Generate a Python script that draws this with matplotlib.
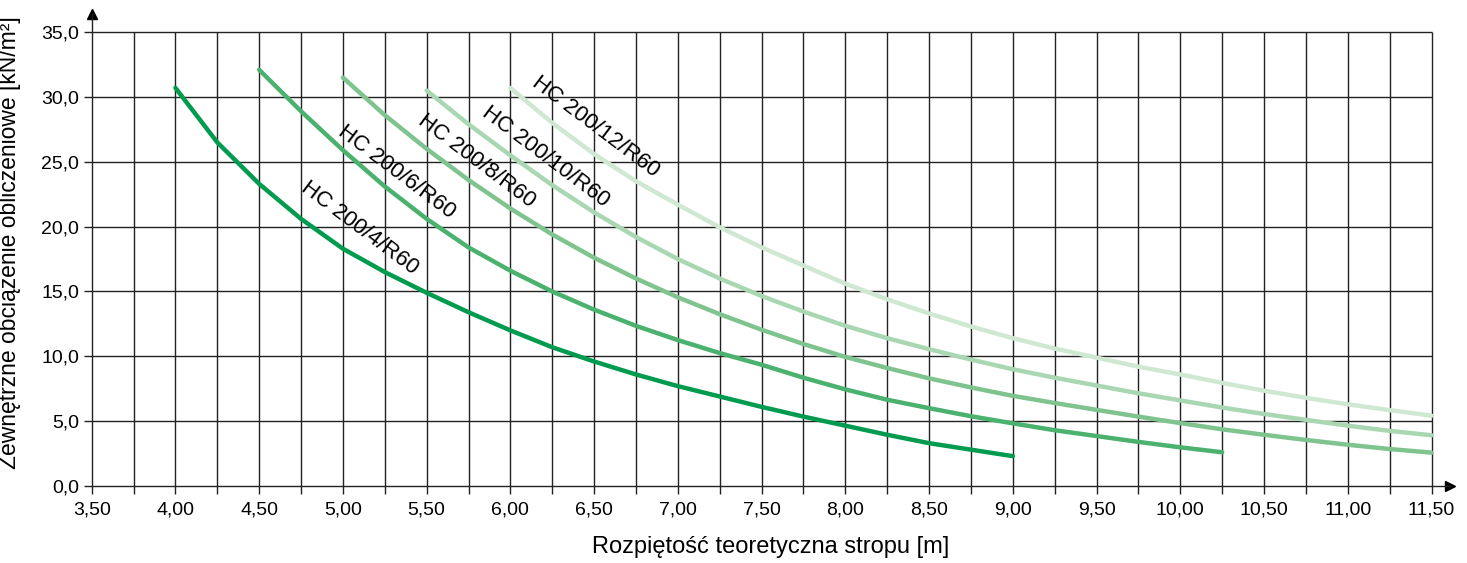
import matplotlib
matplotlib.use('Agg')
import matplotlib.pyplot as plt

plt.rcParams['font.family'] = ['Liberation Sans', 'DejaVu Sans']

# --- DANE ---
x_hc4 = [4.00, 4.25, 4.50, 4.75, 5.00, 5.25, 5.50, 5.75, 6.00, 6.25, 6.50,
         6.75, 7.00, 7.25, 7.50, 7.75, 8.00, 8.25, 8.50, 8.75, 9.00]
y_hc4 = [30.7, 26.5, 23.3, 20.6, 18.3, 16.5, 14.9, 13.4, 12.0, 10.7, 9.6,
         8.6, 7.7, 6.9, 6.1, 5.35, 4.65, 3.95, 3.3, 2.8, 2.3]

x_hc6 = [4.50, 4.75, 5.00, 5.25, 5.50, 5.75, 6.00, 6.25, 6.50, 6.75, 7.00,
         7.25, 7.50, 7.75, 8.00, 8.25, 8.50, 8.75, 9.00, 9.25, 9.50, 9.75,
         10.00, 10.25]
y_hc6 = [32.1, 28.9, 25.9, 23.1, 20.6, 18.4, 16.6, 15.0, 13.6, 12.35, 11.25,
         10.25, 9.35, 8.35, 7.45, 6.65, 6.0, 5.38, 4.83, 4.3, 3.85, 3.4,
         2.98, 2.6]

x_hc8 = [5.00, 5.25, 5.50, 5.75, 6.00, 6.25, 6.50, 6.75, 7.00, 7.25, 7.50,
         7.75, 8.00, 8.25, 8.50, 8.75, 9.00, 9.25, 9.50, 9.75, 10.00, 10.25,
         10.50, 10.75, 11.00, 11.25, 11.50]
y_hc8 = [31.5, 28.6, 26.0, 23.6, 21.4, 19.4, 17.6, 16.0, 14.55, 13.25, 12.05,
         10.95, 9.95, 9.1, 8.3, 7.6, 6.95, 6.4, 5.87, 5.35, 4.85, 4.37,
         3.95, 3.55, 3.18, 2.85, 2.57]

x_hc10 = [5.50, 5.75, 6.00, 6.25, 6.50, 6.75, 7.00, 7.25, 7.50, 7.75, 8.00,
          8.25, 8.50, 8.75, 9.00, 9.25, 9.50, 9.75, 10.00, 10.25, 10.50,
          10.75, 11.00, 11.25, 11.50]
y_hc10 = [30.5, 27.9, 25.5, 23.2, 21.1, 19.2, 17.5, 16.0, 14.65, 13.45, 12.35,
          11.4, 10.55, 9.75, 9.0, 8.35, 7.75, 7.15, 6.6, 6.05, 5.55,
          5.1, 4.65, 4.25, 3.91]

x_hc12 = [6.00, 6.25, 6.50, 6.75, 7.00, 7.25, 7.50, 7.75, 8.00, 8.25, 8.50,
          8.75, 9.00, 9.25, 9.50, 9.75, 10.00, 10.25, 10.50, 10.75, 11.00,
          11.25, 11.50]
y_hc12 = [30.7, 28.0, 25.6, 23.5, 21.7, 19.95, 18.4, 17.0, 15.6, 14.4, 13.3,
          12.3, 11.4, 10.6, 9.9, 9.2, 8.6, 7.95, 7.35, 6.8, 6.3,
          5.85, 5.42]

nazwy = ['HC 200/4/R60', 'HC 200/6/R60', 'HC 200/8/R60', 'HC 200/10/R60', 'HC 200/12/R60']

x_ticks = [3.50, 4.00, 4.50, 5.00, 5.50, 6.00, 6.50, 7.00, 7.50, 8.00,
           8.50, 9.00, 9.50, 10.00, 10.50, 11.00, 11.50]
x_tick_labels = ['3,50', '4,00', '4,50', '5,00', '5,50', '6,00', '6,50', '7,00', '7,50',
                 '8,00', '8,50', '9,00', '9,50', '10,00', '10,50', '11,00', '11,50']
x_grid = [3.50, 3.75, 4.00, 4.25, 4.50, 4.75, 5.00, 5.25, 5.50, 5.75, 6.00,
          6.25, 6.50, 6.75, 7.00, 7.25, 7.50, 7.75, 8.00, 8.25, 8.50, 8.75,
          9.00, 9.25, 9.50, 9.75, 10.00, 10.25, 10.50, 10.75, 11.00, 11.25, 11.50]
y_ticks = [0, 5, 10, 15, 20, 25, 30, 35]
y_tick_labels = ['0,0', '5,0', '10,0', '15,0', '20,0', '25,0', '30,0', '35,0']

# --- STYL ---
kolory = ['#009b4e', '#4bb16e', '#7fc48f', '#a9d7b2', '#cfe8d2']
# pozycje i nachylenie etykiet krzywych
etykiety_pos = [(5.10, 19.9), (5.32, 24.2), (5.80, 25.1), (6.21, 25.4), (6.51, 27.7)]
rotacja = -37

fig = plt.figure(figsize=(14.67, 5.63), dpi=100)
ax = fig.add_axes([0.0625, 0.1368, 0.9884 - 0.0625, 0.9751 - 0.1368])

# siatka
ax.hlines(y_ticks[1:], 3.5, 11.5, color='#222222', linewidth=1.0, zorder=1)
ax.vlines(x_grid[1:], 0, 35, color='#222222', linewidth=1.0, zorder=1)

serie = [(x_hc4, y_hc4), (x_hc6, y_hc6), (x_hc8, y_hc8), (x_hc10, y_hc10), (x_hc12, y_hc12)]
for i, (xs, ys) in enumerate(serie):
    ax.plot(xs, ys, color=kolory[i], linewidth=3.2, solid_capstyle='round',
            solid_joinstyle='round', zorder=3)
    tx, ty = etykiety_pos[i]
    ax.text(tx, ty, nazwy[i], rotation=rotacja, rotation_mode='anchor',
            ha='center', va='center', fontsize=16, color='black', zorder=4)

ax.set_xlim(3.5, 11.61)
ax.set_ylim(0, 36.4)

ax.set_xticks(x_ticks)
ax.set_xticklabels(x_tick_labels)
ax.set_xticks(x_grid, minor=True)
ax.set_yticks(y_ticks)
ax.set_yticklabels(y_tick_labels)

ax.tick_params(axis='both', which='both', direction='out', length=6, width=1.0,
               labelsize=14, color='#222222')
ax.tick_params(axis='x', pad=5)
ax.tick_params(axis='y', pad=3)

for s in ['top', 'right']:
    ax.spines[s].set_visible(False)
for s in ['left', 'bottom']:
    ax.spines[s].set_color('#222222')
    ax.spines[s].set_linewidth(1.0)

# strzalki na koncach osi
ax.plot(1, 0, '>', color='black', markersize=7, transform=ax.transAxes, clip_on=False)
ax.plot(0, 1, '^', color='black', markersize=7, transform=ax.transAxes, clip_on=False)

ax.set_xlabel('Rozpiętość teoretyczna stropu [m]', fontsize=17)
ax.xaxis.set_label_coords(0.5, -0.105)
ax.set_ylabel('Zewnętrzne obciążenie obliczeniowe [kN/m²]', fontsize=16.5)
ax.yaxis.set_label_coords(-0.052, 0.515)

plt.savefig('out.png', dpi=100)
